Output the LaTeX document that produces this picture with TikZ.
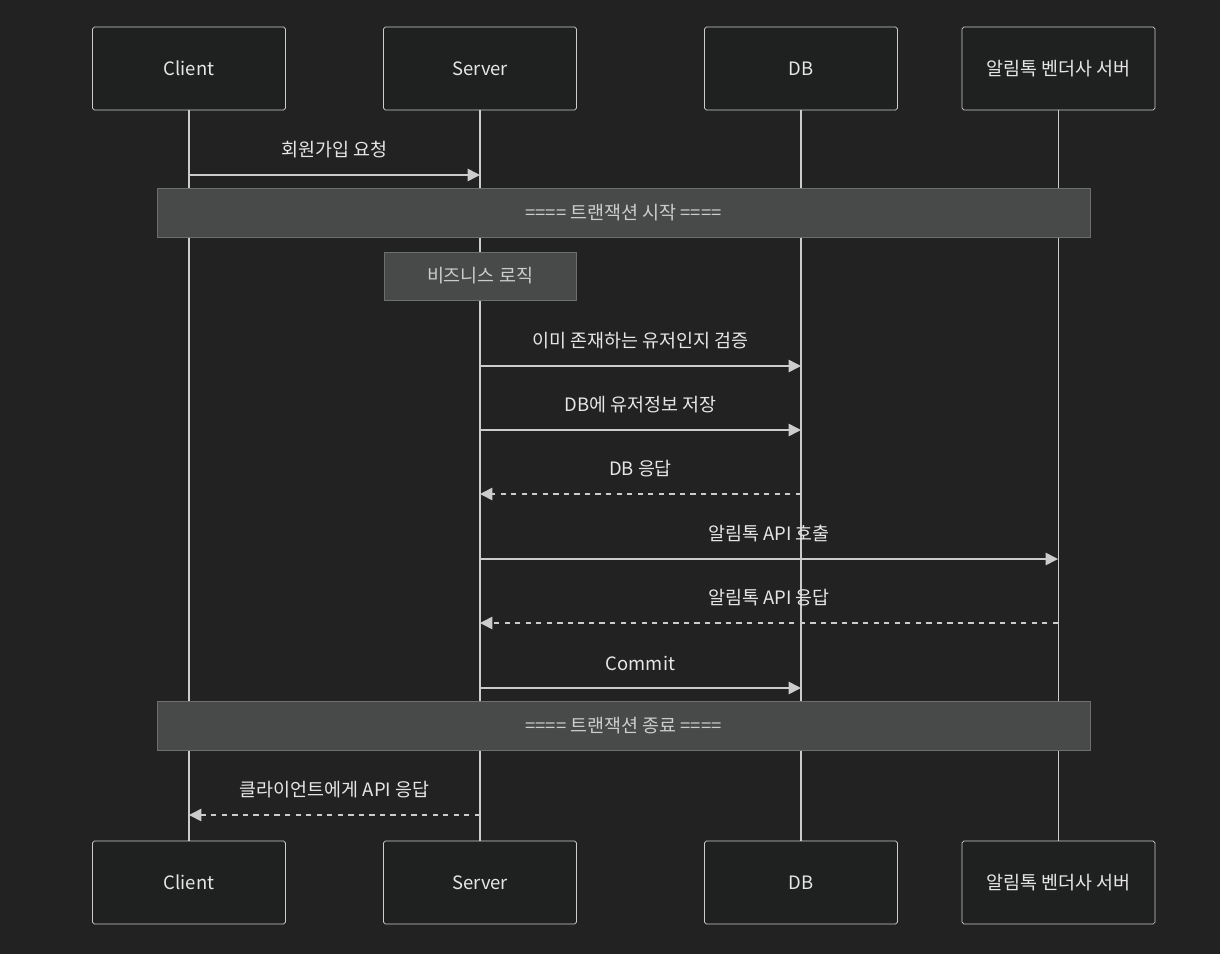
\documentclass[tikz,border=0pt]{standalone}
\usepackage{fontspec}
\setmainfont{Noto Sans CJK KR}
\usetikzlibrary{arrows.meta,positioning}
\definecolor{bgc}{HTML}{222222}
\definecolor{boxc}{HTML}{1F2020}
\definecolor{linec}{HTML}{CCCCCC}
\definecolor{notec}{HTML}{484A4A}
\definecolor{txtc}{HTML}{E6E6E6}
\begin{document}
\begin{tikzpicture}[x=0.02cm,y=-0.02cm,font=\fontsize{10.5}{12}\selectfont,
    msg/.style={text=txtc,above=6pt}]
\fill[bgc] (0,0) rectangle (1220,954);
\begin{scope}[every node/.style={draw=linec,fill=boxc,text=txtc,rounded corners=1pt,minimum width=3.86cm,minimum height=1.66cm,inner sep=0pt}]
    \node (C) at (189,68.5) {Client};
    \node (S) at (480,68.5) {Server};
    \node (D) at (801,68.5) {DB};
    \node (V) at (1058.5,68.5) {알림톡 벤더사 서버};
    \node (C2) at (189,882.5) {Client};
    \node (S2) at (480,882.5) {Server};
    \node (D2) at (801,882.5) {DB};
    \node (V2) at (1058.5,882.5) {알림톡 벤더사 서버};
\end{scope}
\begin{scope}[every path/.style={draw=linec,line width=0.9pt}]
    \path (C) -- (C2);
    \path (S) -- (S2);
    \path (D) -- (D2);
    \path (V) -- (V2);
\end{scope}
\begin{scope}[every node/.style={fill=notec,draw=notec!80!white,text=linec,inner sep=0pt}]
    \node[minimum width=18.66cm,minimum height=0.98cm] (T1) at (623.5,212.5) {==== 트랜잭션 시작 ====};
    \node[minimum width=3.84cm,minimum height=0.96cm] (B) at (480,276) {비즈니스 로직};
    \node[minimum width=18.66cm,minimum height=0.98cm] (T2) at (623.5,725.5) {==== 트랜잭션 종료 ====};
\end{scope}
% messages
\begin{scope}[every path/.style={draw=linec,line width=0.9pt,-{Triangle[length=7pt,width=7pt]}}]
    \coordinate (c1) at (189,175); \coordinate (s1) at (480,175);
    \path (c1) -- node[msg] {회원가입 요청} (s1);
    \coordinate (s2) at (480,366); \coordinate (d2) at (801,366);
    \path (s2) -- node[msg] {이미 존재하는 유저인지 검증} (d2);
    \coordinate (s3) at (480,430); \coordinate (d3) at (801,430);
    \path (s3) -- node[msg] {DB에 유저정보 저장} (d3);
    \coordinate (d4) at (801,494); \coordinate (s4) at (480,494);
    \path[dashed] (d4) -- node[msg] {DB 응답} (s4);
    \coordinate (s5) at (480,559); \coordinate (v5) at (1058,559);
    \path (s5) -- node[msg] {알림톡 API 호출} (v5);
    \coordinate (v6) at (1058,623); \coordinate (s6) at (480,623);
    \path[dashed] (v6) -- node[msg] {알림톡 API 응답} (s6);
    \coordinate (s7) at (480,688); \coordinate (d7) at (801,688);
    \path (s7) -- node[msg] {Commit} (d7);
    \coordinate (s8) at (480,815); \coordinate (c8) at (189,815);
    \path[dashed] (s8) -- node[msg] {클라이언트에게 API 응답} (c8);
\end{scope}
\end{tikzpicture}
\end{document}
